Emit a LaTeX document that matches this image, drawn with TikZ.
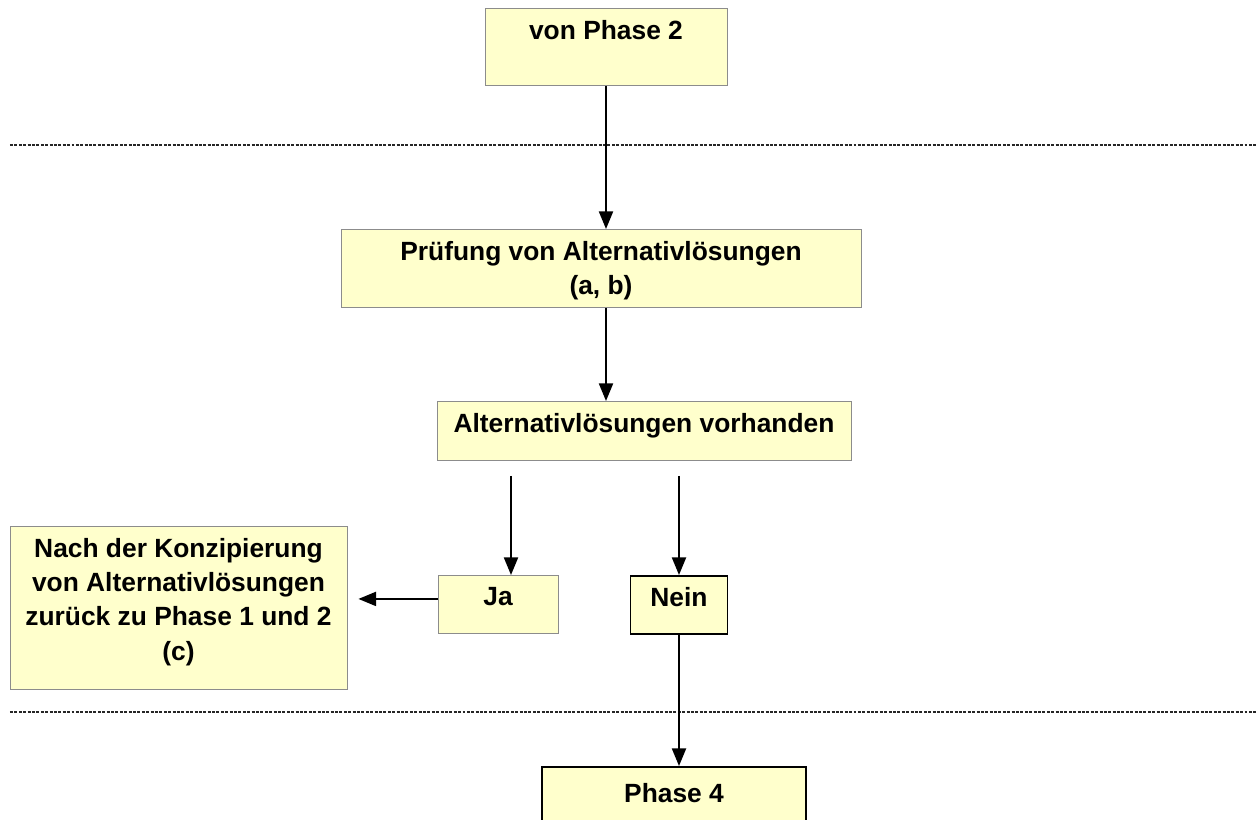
\documentclass[tikz,border=0pt]{standalone}
\usepackage{fontspec}
\setmainfont{Liberation Sans}
\usepackage{tikz}
\usetikzlibrary{arrows.meta,positioning}
\definecolor{boxfill}{HTML}{FFFFCC}
\tikzset
{
    phasebox/.style  = {rectangle, fill=boxfill, draw=black!45, line width=0.5pt, inner sep=0pt, anchor=north},
    strongbox/.style = {phasebox, draw=black, line width=1pt},
    boxtext/.style   = {anchor=north, align=center, inner xsep=0pt, inner ysep=6.8pt, font=\bfseries\fontsize{15}{19.5}\selectfont},
    flowarrow/.style = {-{Triangle[length=10pt,width=8pt]}, line width=1pt},
    sepline/.style   = {black!85, line width=0.6pt, dash pattern=on 1.7pt off 0.8pt}
}
\begin{document}
\begin{tikzpicture}
    \useasboundingbox (0,0) rectangle (25.14,-16.4);
    \clip (0,0) rectangle (25.14,-16.4);

    % boxes
    \node [phasebox, minimum width=4.84cm, minimum height=1.54cm, label={[boxtext]north:von Phase 2}] (p2) at (12.12,-0.16) {};
    \node [phasebox, minimum width=10.4cm, minimum height=1.56cm, label={[boxtext]north:Prüfung von Alternativlösungen\\(a, b)}] (pr) at (12.02,-4.58) {};
    \node [phasebox, minimum width=8.28cm, minimum height=1.18cm, label={[boxtext]north:Alternativlösungen vorhanden}] (av) at (12.88,-8.02) {};
    \node [phasebox, minimum width=2.4cm, minimum height=1.16cm, label={[boxtext]north:Ja}] (ja) at (9.96,-11.5) {};
    \node [strongbox, minimum width=1.94cm, minimum height=1.16cm, label={[boxtext]north:Nein}] (nein) at (13.58,-11.5) {};
    \node [phasebox, minimum width=6.74cm, minimum height=3.26cm, label={[boxtext]north:Nach der Konzipierung\\von Alternativlösungen\\zurück zu Phase 1 und 2\\(c)}] (back) at (3.57,-10.52) {};
    \node [strongbox, minimum width=5.28cm, minimum height=1.4cm, label={[boxtext, yshift=-0.1cm]north:Phase 4}] (ph4) at (13.48,-15.32) {};

    % phase borders
    \coordinate (s1l) at (0.2,-2.9);
    \coordinate (s1r) at (25.14,-2.9);
    \coordinate (s2l) at (0.2,-14.24);
    \coordinate (s2r) at (25.14,-14.24);
    \draw [sepline] (s1l) -- (s1r);
    \draw [sepline] (s2l) -- (s2r);

    % arrows
    \draw [flowarrow] (p2.south) -- (pr.north -| p2.south);
    \draw [flowarrow] (pr.south -| p2.south) -- (av.north -| p2.south);
    \draw [flowarrow] ([xshift=0.26cm, yshift=-0.3cm]av.south -| ja.north) -- ([xshift=0.26cm]ja.north);
    \draw [flowarrow] ([yshift=-0.3cm]av.south -| nein.north) -- (nein.north);
    \draw [flowarrow] ([yshift=0.11cm]ja.west) -- ([xshift=0.22cm, yshift=0.11cm]ja.west -| back.east);
    \draw [flowarrow] (nein.south) -- (ph4.north -| nein.south);
\end{tikzpicture}
\end{document}
